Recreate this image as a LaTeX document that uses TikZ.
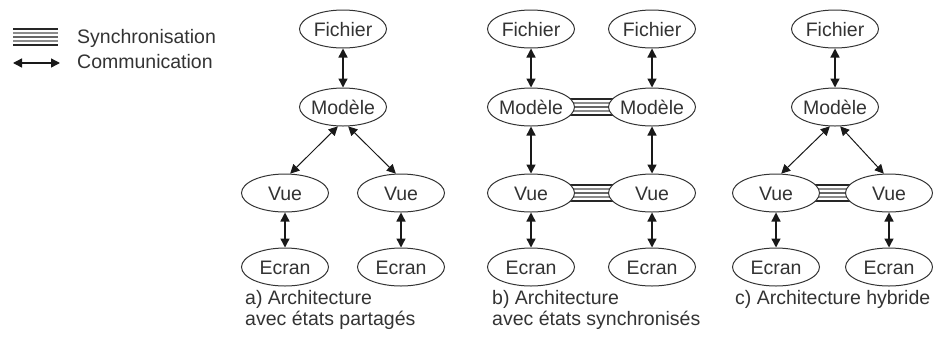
\documentclass[tikz,border=0pt]{standalone}
\usepackage{fontspec}
\setmainfont{Liberation Sans}
\usetikzlibrary{arrows.meta,shapes.geometric,backgrounds}

\newcommand{\syncline}[2]{%
  \foreach \dy/\col in {-8/black!85,-4/black!45,0/black!60,4/black!45,8/black!85}
    \draw[line width=1.3pt, color=\col] ([yshift=\dy pt]#1) -- ([yshift=\dy pt]#2);}

\begin{document}
\begin{tikzpicture}[x=1pt,y=-1pt]
\tikzstyle{every node}=[text=black!80, font=\fontsize{19.5}{21}\selectfont]
\tikzstyle{comp}=[ellipse, draw=black!80, line width=1pt, fill=white, minimum width=87pt, minimum height=38pt, inner xsep=-3pt, inner ysep=0pt, text height=14pt, text depth=0pt]
\tikzstyle{comm}=[line width=1.4pt, draw=black!90, {Triangle[length=9pt,width=9pt]}-{Triangle[length=9pt,width=9pt]}]
\tikzstyle{diag}=[comm, line width=1pt]
\tikzstyle{lbl}=[anchor=base west, align=left, inner sep=0pt]
\useasboundingbox (0,0) rectangle (933,349);

% legend
\coordinate (s1) at (13,37);
\coordinate (s2) at (58,37);
\coordinate (c1) at (13,63);
\coordinate (c2) at (60,63);
\syncline{s1}{s2}
\draw[comm] (c1) -- (c2);
\draw (77,43) node (syncTxt) [lbl] {Synchronisation};
\draw (77,68) node (commTxt) [lbl] {Communication};

% a) shared states
\draw (343,29) node (fiA) [comp] {Fichier};
\draw (343,107) node (modA) [comp] {Modèle};
\draw (285,193) node (vueA1) [comp] {Vue};
\draw (401,193) node (vueA2) [comp] {Vue};
\draw (285,267) node (ecrA1) [comp] {Ecran};
\draw (401,267) node (ecrA2) [comp] {Ecran};
\draw[comm] (fiA) -- (modA);
\draw[diag] (modA.255) -- (vueA1.75);
\draw[diag] (modA.285) -- (vueA2.105);
\draw[comm] (vueA1) -- (ecrA1);
\draw[comm] (vueA2) -- (ecrA2);
\draw (245,325) node (capA) [lbl] {a) Architecture\\avec états partagés};

% b) synchronised states
\draw (531,29) node (fiB1) [comp] {Fichier};
\draw (652,29) node (fiB2) [comp] {Fichier};
\draw (531,107) node (modB1) [comp] {Modèle};
\draw (652,107) node (modB2) [comp] {Modèle};
\draw (531,193) node (vueB1) [comp] {Vue};
\draw (652,193) node (vueB2) [comp] {Vue};
\draw (531,267) node (ecrB1) [comp] {Ecran};
\draw (652,267) node (ecrB2) [comp] {Ecran};
\draw[comm] (fiB1) -- (modB1);
\draw[comm] (fiB2) -- (modB2);
\draw[comm] (modB1) -- (vueB1);
\draw[comm] (modB2) -- (vueB2);
\draw[comm] (vueB1) -- (ecrB1);
\draw[comm] (vueB2) -- (ecrB2);
\begin{pgfonlayer}{background}
\syncline{modB1.center}{modB2.center}
\syncline{vueB1.center}{vueB2.center}
\end{pgfonlayer}
\draw (492,325) node (capB) [lbl] {b) Architecture\\avec états synchronisés};

% c) hybrid
\draw (835,29) node (fiC) [comp] {Fichier};
\draw (835,107) node (modC) [comp] {Modèle};
\draw (776,193) node (vueC1) [comp] {Vue};
\draw (889,193) node (vueC2) [comp] {Vue};
\draw (776,267) node (ecrC1) [comp] {Ecran};
\draw (889,267) node (ecrC2) [comp] {Ecran};
\draw[comm] (fiC) -- (modC);
\draw[diag] (modC.255) -- (vueC1.75);
\draw[diag] (modC.285) -- (vueC2.105);
\draw[comm] (vueC1) -- (ecrC1);
\draw[comm] (vueC2) -- (ecrC2);
\begin{pgfonlayer}{background}
\syncline{vueC1.center}{vueC2.center}
\end{pgfonlayer}
\draw (735,304) node (capC) [lbl] {c) Architecture hybride};
\end{tikzpicture}
\end{document}
